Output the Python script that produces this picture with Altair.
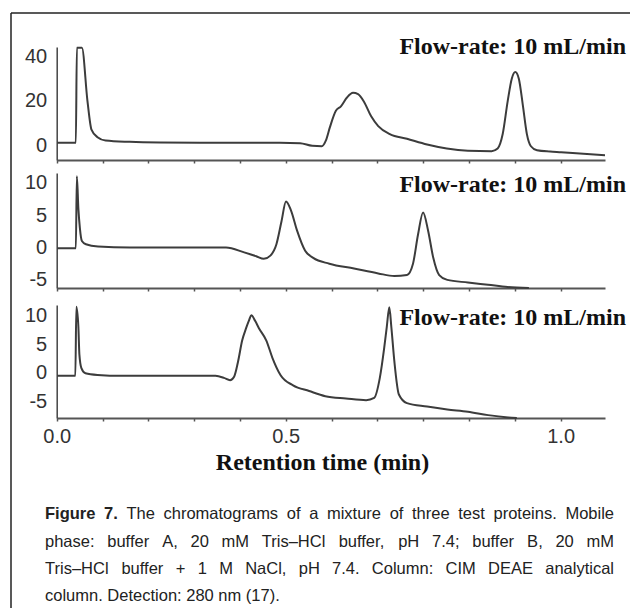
import altair as alt
import pandas as pd

# ---------------- data ----------------
p1_t = [0.001, 0.038, 0.040, 0.050, 0.061, 0.069, 0.081, 0.097, 0.145, 0.205, 0.284, 0.443, 0.483,
        0.507, 0.526, 0.534, 0.542, 0.554, 0.564, 0.576, 0.588, 0.598, 0.610, 0.624, 0.638, 0.661,
        0.695, 0.735, 0.774, 0.816, 0.863, 0.875, 0.885, 0.895, 0.903, 0.910, 0.917, 0.925, 0.933,
        0.941, 0.953, 0.979, 1.001, 1.038, 1.088]
p1_v = [1.1, 1.1, 44, 44, 20, 7, 3.6, 2.1, 1.5, 1.2, 1.1, 1.1, 0.9,
        -0.3, -0.5, 2, 8, 15.5, 17.5, 21.5, 23.6, 23, 19.5, 13, 8.6, 5,
        2.9, 0.3, -1.5, -2.5, -2.7, -1.5, 5, 20, 30, 33, 30, 18, 5,
        -0.5, -2.3, -2.9, -3.2, -3.8, -4.6]

p2_t = [0.001, 0.038, 0.040, 0.043, 0.046, 0.050, 0.058, 0.082, 0.145, 0.336, 0.372, 0.396, 0.411,
        0.424, 0.436, 0.446, 0.455, 0.465, 0.477, 0.493, 0.509, 0.541, 0.590, 0.638, 0.670, 0.695,
        0.707, 0.717, 0.727, 0.737, 0.747, 0.759, 0.775, 0.816, 0.856, 0.895, 0.937]
p2_v = [-0.1, -0.1, 11, 6, 3, 1, 0.5, 0.15, 0, 0, -0.75, -1.35, -1.75,
        -1.25, 0.5, 4, 7.1, 5.7, 2.6, -0.5, -1.6, -2.5, -3.25, -4, -4.4, -4.25,
        -2.5, 2, 5.4, 2.6, -1.5, -4.25, -5, -5.4, -5.75, -6.1, -6.25]

p3_t = [0.001, 0.037, 0.039, 0.043, 0.045, 0.049, 0.057, 0.081, 0.130, 0.315, 0.332, 0.344, 0.352,
        0.360, 0.368, 0.376, 0.382, 0.386, 0.394, 0.401, 0.416, 0.428, 0.444, 0.469, 0.501, 0.533,
        0.574, 0.614, 0.630, 0.641, 0.650, 0.655, 0.660, 0.664, 0.670, 0.679, 0.695, 0.735, 0.775,
        0.816, 0.856, 0.896, 0.913]
p3_v = [-0.55, -0.55, 11.5, 8, 3.2, 0.8, -0.1, -0.4, -0.55, -0.55, -0.9, -1.3, -0.7,
        2, 5.6, 7.8, 9.2, 10, 9, 7.8, 5.6, 2.6, -0.4, -2.2, -3.2, -4.1,
        -4.5, -4.8, -4.4, -1, 4.4, 8, 11.4, 8, 2, -3.8, -5.3, -5.9, -6.4,
        -6.8, -7.4, -7.8, -7.9]

p1_yticks = [0, 20, 40]
p2_yticks = [-5, 0, 5, 10]
p3_yticks = [-5, 0, 5, 10]
p1_domain = [-6.7, 44.3]
p2_domain = [-6.25, 11.5]
p3_domain = [-7.9, 11.8]

x_domain = [0, 1.088]
x_ticks = [0.0, 0.0909, 0.1818, 0.2727, 0.3636, 0.4545, 0.5455, 0.6364, 0.7273, 0.8182, 0.9091, 1.0]
x_label_at = [0.0, 0.4545, 1.0]
x_label_text = ["0.0", "0.5", "1.0"]
x_title = "Retention time (min)"
flow_label = "Flow-rate: 10 mL/min"

cap_bold = "Figure 7."
cap_lines = [
    "The chromatograms of a mixture of three test proteins. Mobile",
    "phase: buffer A, 20 mM Tris\u2013HCl buffer, pH 7.4; buffer B, 20 mM",
    "Tris\u2013HCl buffer + 1 M NaCl, pH 7.4. Column: CIM DEAE analytical",
    "column. Detection: 280 nm (17).",
]

# ---------------- layout ----------------
W, H = 619, 595
X_RANGE = [45.7, 594]
NUM_FONT = "Liberation Sans, Arial, sans-serif"
CAP_FONT = "Liberation Sans, Arial, sans-serif"
SERIF = "Liberation Serif, Times New Roman, serif"
LINE_COLOR = "#3c3c3c"
CAP_SIZE = 16.5

label_expr = " : ".join(
    f"abs(datum.value - {v}) < 0.01 ? '{t}'" for v, t in zip(x_label_at, x_label_text)
) + " : ''"
y_label_expr = "datum.value < 0 ? '-' + abs(datum.value) : '' + datum.value"


def x_axis(offset, show):
    kw = dict(orient="bottom", offset=offset, values=x_ticks, grid=False,
              domainColor="#555", domainWidth=2, tickColor="#555", tickSize=3, tickWidth=1.5)
    if show:
        kw.update(labels=True, labelExpr=label_expr, labelFont=NUM_FONT, labelFontSize=20,
                  labelColor="#333", labelPadding=5, labelFlush=False, labelOverlap=False,
                  title=x_title, titleFont=SERIF, titleFontWeight="bold", titleFontSize=24,
                  titleColor="#111", titleX=311, titleY=44, titleBaseline="middle")
    else:
        kw.update(labels=False, title=None)
    return alt.Axis(**kw)


def y_axis(values):
    return alt.Axis(orient="left", offset=-45.7, values=values, title=None, ticks=False,
                    tickSize=0, labelPadding=10, labelFont=NUM_FONT, labelFontSize=20,
                    labelColor="#333", domainColor="#444", domainWidth=1.5, grid=False,
                    labelFlush=False, labelOverlap=False, labelExpr=y_label_expr)


def trace(t, v, domain, rng, yvals, xoff, show):
    df = pd.DataFrame({"t": t, "v": v})
    return alt.Chart(df).mark_line(color=LINE_COLOR, strokeWidth=2, interpolate="monotone").encode(
        x=alt.X("t:Q", scale=alt.Scale(domain=x_domain, range=X_RANGE, nice=False, zero=False),
                axis=x_axis(xoff, show)),
        y=alt.Y("v:Q", scale=alt.Scale(domain=domain, range=rng, nice=False, zero=False),
                axis=y_axis(yvals)),
    )


l1 = trace(p1_t, p1_v, p1_domain, [147, 34], p1_yticks, 147 - H, False)
l2 = trace(p2_t, p2_v, p2_domain, [275, 160], p2_yticks, 275 - H, False)
l3 = trace(p3_t, p3_v, p3_domain, [405, 292], p3_yticks, 405 - H, True)


def flow_text(ypos):
    return alt.Chart(pd.DataFrame({"s": [flow_label]})).mark_text(
        align="right", baseline="middle", font=SERIF, fontWeight="bold", fontSize=24, color="#111"
    ).encode(text="s:N", x=alt.value(615), y=alt.value(ypos))


f1 = flow_text(34)
f2 = flow_text(172)
f3 = flow_text(305)

# ---------------- justified caption (Arial / Liberation Sans metrics) ----------------
REG_W = {" ": 278, ",": 278, ".": 278, ":": 278, ";": 278, "(": 333, ")": 333, "+": 584,
         "-": 333, "\u2013": 556, "/": 278}
for ch in "0123456789":
    REG_W[ch] = 556
REG_W.update(dict(zip("abcdefghijklmnopqrstuvwxyz",
                      [556, 556, 500, 556, 556, 278, 556, 556, 222, 222, 500, 222, 833, 556, 556,
                       556, 556, 333, 500, 278, 556, 500, 722, 500, 500, 500])))
REG_W.update(dict(zip("ABCDEFGHIJKLMNOPQRSTUVWXYZ",
                      [667, 667, 722, 722, 667, 611, 778, 722, 278, 500, 667, 556, 833, 722, 778,
                       667, 778, 722, 667, 611, 722, 667, 944, 667, 667, 611])))
BOLD_W = dict(REG_W)
BOLD_W.update({"i": 278, "g": 611, "u": 611, "r": 389, "F": 611, "e": 556})


def word_width(w, bold):
    tbl = BOLD_W if bold else REG_W
    return sum(tbl.get(c, 556) for c in w) * CAP_SIZE / 1000.0


cap_y = [501, 529, 556, 583]
LEFT, RIGHT = 34, 603
cap_layers = []
for i, line in enumerate(cap_lines):
    words = [(w, False) for w in line.split(" ")]
    if i == 0:
        words = [(w, True) for w in cap_bold.split(" ")] + words
    if i < 3:
        total = sum(word_width(w, b) for w, b in words)
        gap = (RIGHT - LEFT - total) / (len(words) - 1)
    else:
        gap = REG_W[" "] * CAP_SIZE / 1000.0
    xpos = LEFT
    for w, b in words:
        cap_layers.append(
            alt.Chart(pd.DataFrame({"s": [w]})).mark_text(
                align="left", baseline="middle", font=CAP_FONT, fontSize=CAP_SIZE,
                fontWeight="bold" if b else "normal", color="#222"
            ).encode(text="s:N", x=alt.value(round(xpos, 2)), y=alt.value(cap_y[i]))
        )
        xpos += word_width(w, b) + gap

one = pd.DataFrame({"a": [0]})
border_left = alt.Chart(one).mark_rule(color="#222", strokeWidth=1.5).encode(
    x=alt.value(0), y=alt.value(0), y2=alt.value(H + 20))
border_top = alt.Chart(one).mark_rule(color="#222", strokeWidth=1.5).encode(
    x=alt.value(0), x2=alt.value(W + 20), y=alt.value(0))

chart = alt.layer(
    l1, l2, l3, f1, f2, f3, *cap_layers, border_left, border_top
).resolve_scale(
    y="independent"
).resolve_axis(
    x="independent", y="independent"
).properties(
    width=W, height=H,
    autosize=alt.AutoSizeParams(type="none"),
    padding={"left": 3, "top": 5, "right": 0, "bottom": 0},
    background="white",
).configure_view(stroke="transparent")

chart.save("out.html", embed_options={"renderer": "svg", "actions": False})
